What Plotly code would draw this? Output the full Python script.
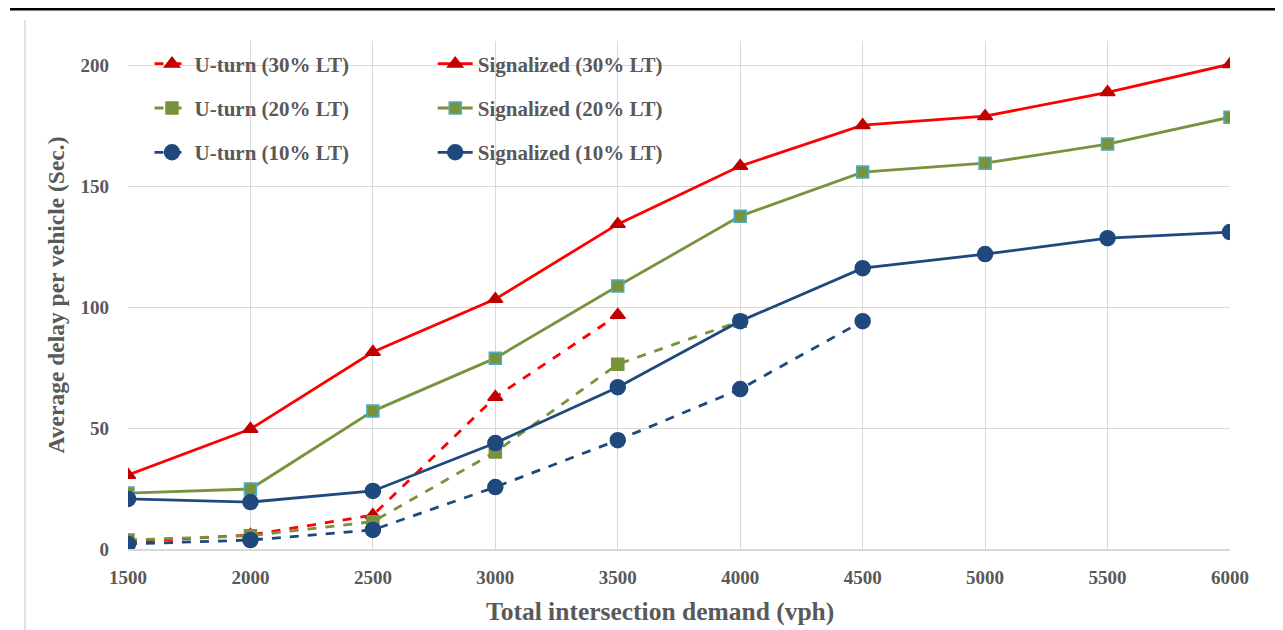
import plotly.graph_objects as go

demand = [1500, 2000, 2500, 3000, 3500, 4000, 4500, 5000, 5500, 6000]

sig30 = [30.6, 49.6, 81.4, 103.3, 134.3, 158.3, 175.2, 178.9, 188.8, 200.4]
sig20 = [23.1, 24.8, 57.0, 78.9, 108.7, 137.6, 155.8, 159.5, 167.4, 178.5]
sig10 = [20.7, 19.4, 24.0, 43.8, 66.9, 94.2, 116.1, 121.9, 128.5, 131.0]

ut30 = [2.9, 5.8, 14.0, 62.8, 96.7]
ut20 = [3.7, 5.5, 11.3, 40.1, 76.4, 94.2]
ut10 = [2.1, 3.7, 7.9, 25.6, 45.0, 66.1, 94.2]

yticks = [0, 50, 100, 150, 200]

RED = "#FF0000"
DRED = "#C00000"
OLIVE = "#77933C"
TEAL = "#4BACC6"
NAVY = "#1F497D"
GRAY = "#595959"
FONT = "Liberation Serif"

W, H = 1283, 630
L, R, T, B = 120, 61, 33, 89
PW, PH = W - L - R, H - T - B

fig = go.Figure()

def add(name, x, y, color, dash, symbol, mcolor, mline, size, legend, group):
    fig.add_trace(go.Scatter(
        x=x, y=y, name=name, mode="lines+markers",
        line=dict(color=color, width=2.8, dash=dash),
        marker=dict(symbol=symbol, color=mcolor, size=size,
                    line=dict(color=mline, width=1.5)),
        legend=legend, legendgroup=group,
    ))

add("U-turn (30% LT)", demand[:len(ut30)], ut30, RED, "dash", "triangle-up", DRED, DRED, 13, "legend", "a")
add("U-turn (20% LT)", demand[:len(ut20)], ut20, OLIVE, "dash", "square", OLIVE, OLIVE, 12, "legend", "b")
add("U-turn (10% LT)", demand[:len(ut10)], ut10, NAVY, "dash", "circle", NAVY, NAVY, 15, "legend", "c")
add("Signalized (30% LT)", demand, sig30, RED, "solid", "triangle-up", DRED, DRED, 13, "legend2", "d")
add("Signalized (20% LT)", demand, sig20, OLIVE, "solid", "square", OLIVE, TEAL, 12, "legend2", "e")
add("Signalized (10% LT)", demand, sig10, NAVY, "solid", "circle", NAVY, NAVY, 15, "legend2", "f")

legend_common = dict(
    font=dict(family=FONT, size=21, color=GRAY, weight="bold"),
    bgcolor="rgba(0,0,0,0)", borderwidth=0,
    tracegroupgap=14, itemwidth=35, yanchor="top", xanchor="left",
)

def px_x(p):
    return (p - 8 - L) / PW

def px_y(p):
    return (H - B - (p - 8)) / PH

fig.update_layout(
    width=W, height=H,
    paper_bgcolor="white", plot_bgcolor="white",
    margin=dict(l=L, r=R, t=T, b=B),
    font=dict(family=FONT, color=GRAY, size=19, weight="bold"),
    showlegend=True,
    legend=dict(x=0.0195, y=0.995, **legend_common),
    legend2=dict(x=0.2765, y=0.995, **legend_common),
    xaxis=dict(
        range=[1500, 6000], tickvals=demand, ticktext=[str(d) for d in demand],
        showgrid=True, gridcolor="#D9D9D9", gridwidth=1,
        showline=True, linecolor="#D9D9D9", linewidth=1.5,
        zeroline=False, ticks="", ticklabelstandoff=10,
        tickfont=dict(family=FONT, size=19, color=GRAY, weight="bold"),
    ),
    yaxis=dict(
        range=[0, 210], tickvals=yticks,
        showgrid=True, gridcolor="#D9D9D9", gridwidth=1,
        showline=False, zeroline=False, ticks="", ticklabelstandoff=18,
        tickfont=dict(family=FONT, size=19, color=GRAY, weight="bold"),
        title=dict(text="Average delay per vehicle (Sec.)", standoff=9,
                   font=dict(family=FONT, size=23.5, color=GRAY, weight="bold")),
    ),
    annotations=[
        dict(text="Total intersection demand (vph)", xref="paper", yref="paper",
             x=px_x(660), y=px_y(611), xanchor="center", yanchor="middle",
             showarrow=False,
             font=dict(family=FONT, size=25.5, color=GRAY, weight="bold")),
    ],
    shapes=[
        dict(type="line", xref="paper", yref="paper",
             x0=px_x(10), x1=px_x(1300), y0=px_y(9), y1=px_y(9),
             line=dict(color="black", width=3)),
        dict(type="line", xref="paper", yref="paper",
             x0=px_x(25), x1=px_x(25), y0=px_y(650), y1=px_y(20),
             line=dict(color="#D9D9D9", width=1.5)),
        dict(type="line", xref="paper", yref="paper",
             x0=px_x(1278), x1=px_x(1278), y0=px_y(650), y1=px_y(20),
             line=dict(color="#D9D9D9", width=1.5)),
    ],
)

fig.write_html("out.html")
